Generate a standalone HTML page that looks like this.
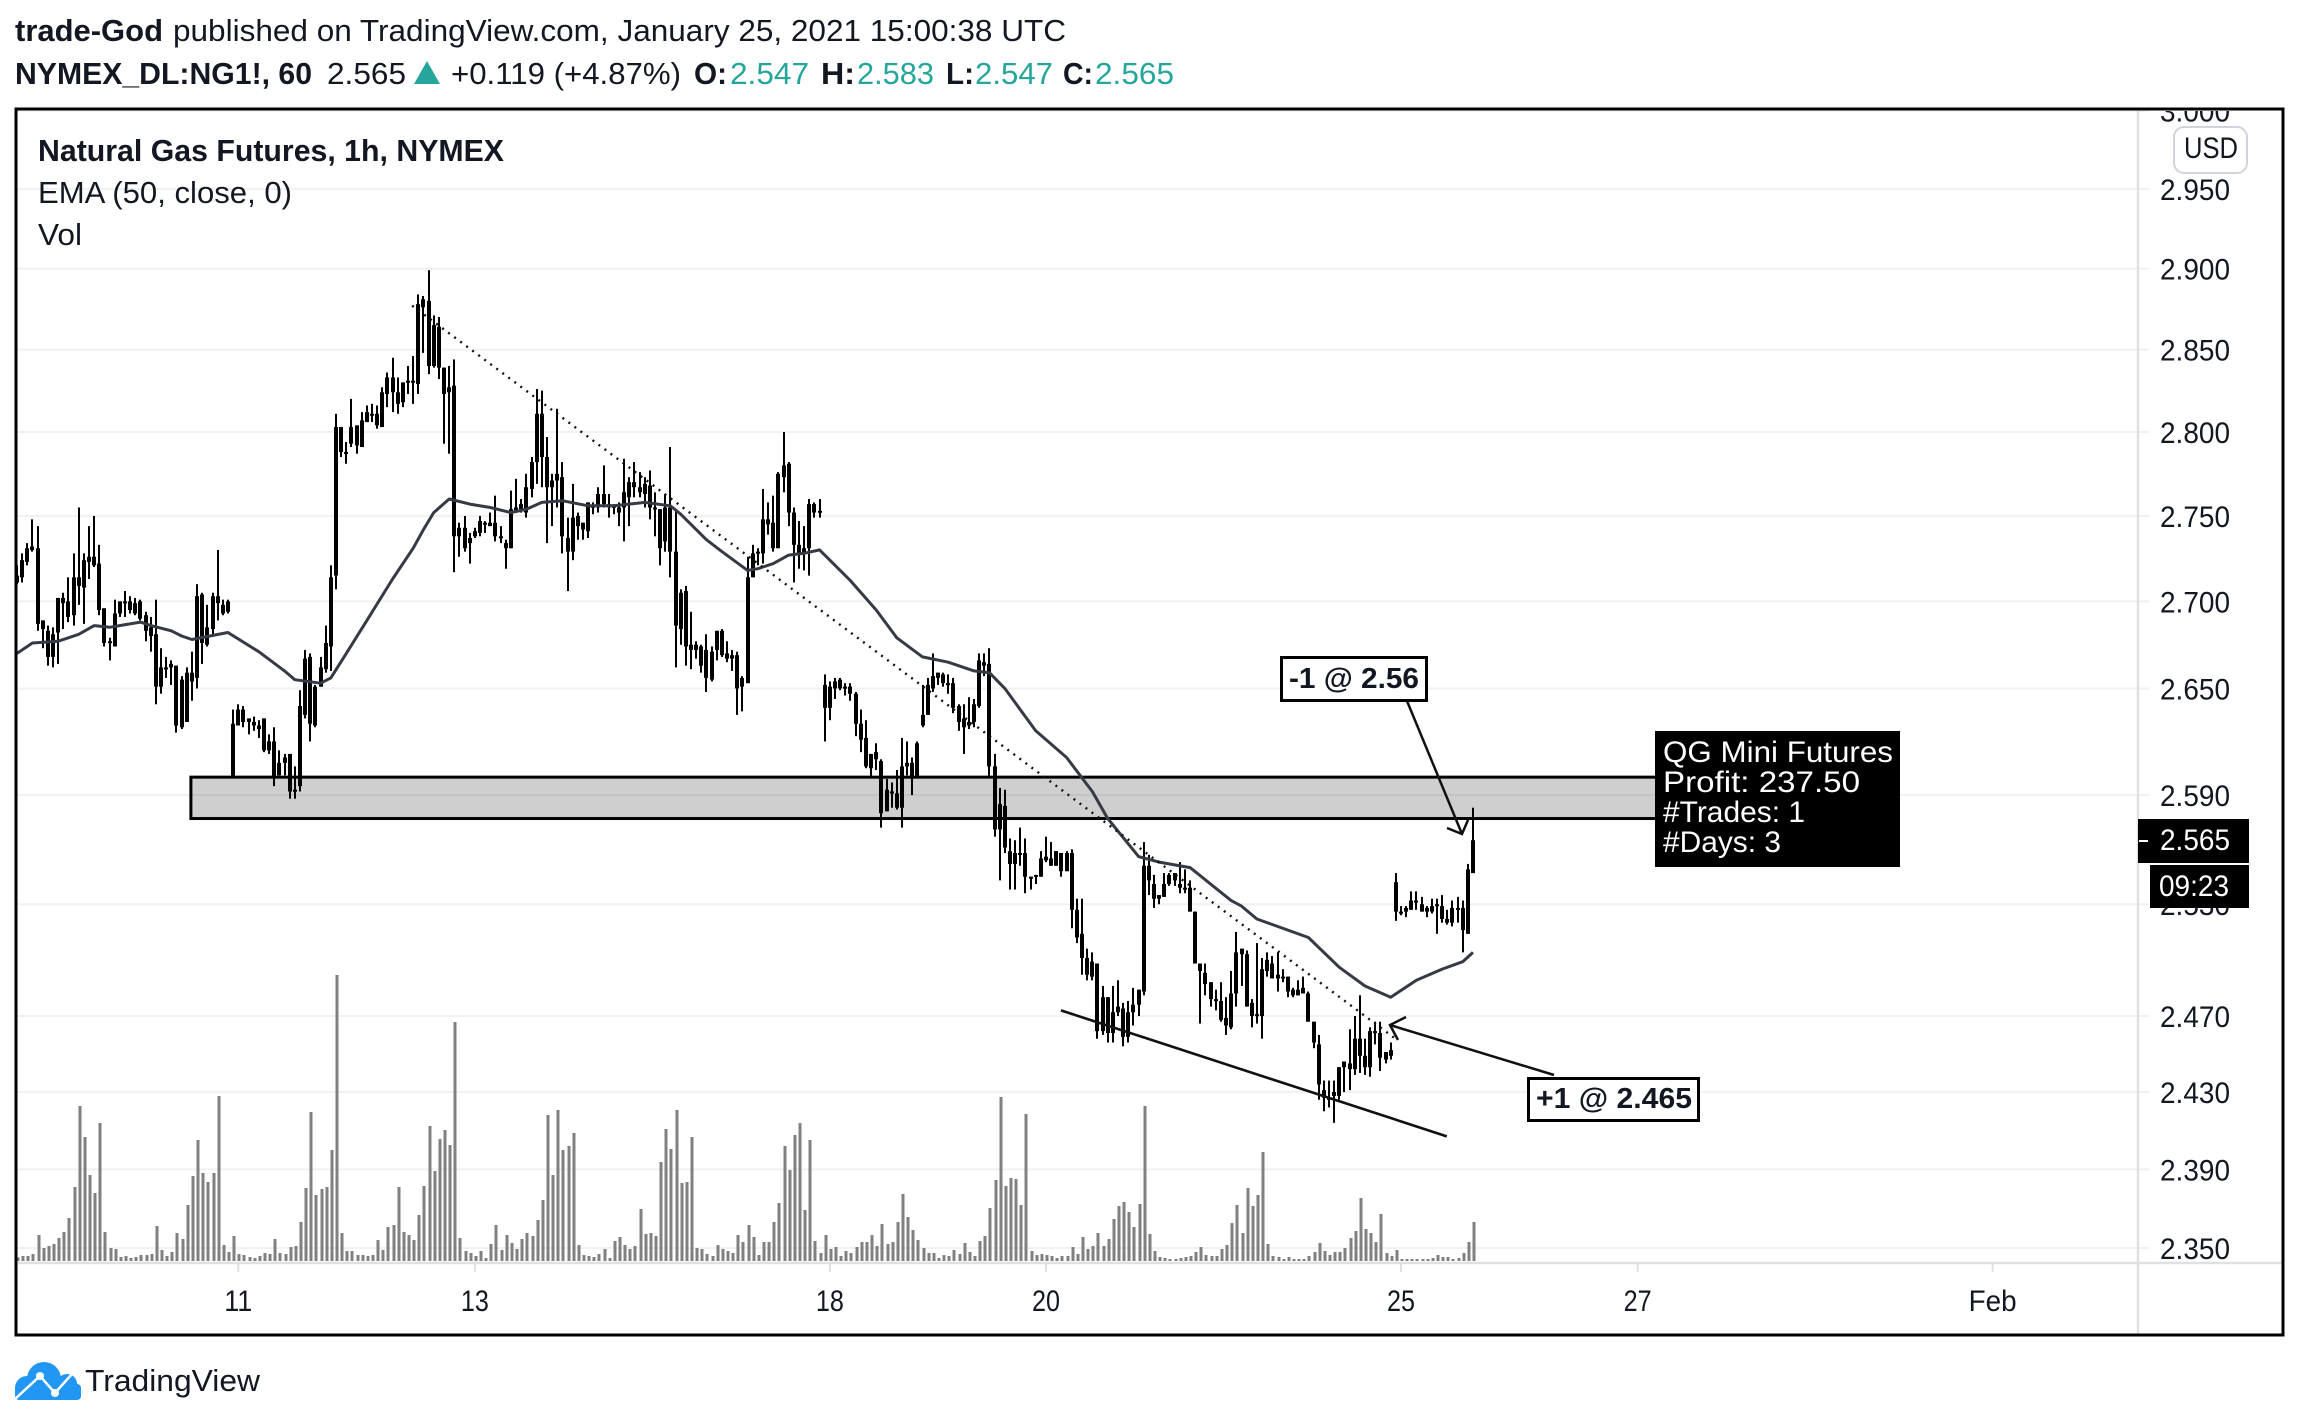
<!DOCTYPE html>
<html lang="en">
<head>
<meta charset="utf-8">
<title>Natural Gas Futures, 1h, NYMEX</title>
<style>
html,body{margin:0;padding:0;background:#fff;width:2299px;height:1426px;overflow:hidden}
svg{display:block}
text{font-family:"Liberation Sans",sans-serif;fill:#131722}
.b{font-weight:bold}
.teal{fill:#26a69a}
.w{fill:#fff}
</style>
</head>
<body>
<svg id="chart" xmlns="http://www.w3.org/2000/svg" width="2299" height="1426" viewBox="0 0 2299 1426">
  <defs>
    <clipPath id="panel-clip"><rect x="17" y="110" width="2121" height="1153"/></clipPath>
    <clipPath id="axis-clip"><rect x="2140" y="111" width="142" height="1222"/></clipPath>
  </defs>
  <rect width="2299" height="1426" fill="#fff"/>

  <g font-size="31">
    <text class="b" x="15" y="41" textLength="148" lengthAdjust="spacingAndGlyphs">trade-God</text>
    <text x="173" y="41" textLength="893" lengthAdjust="spacingAndGlyphs">published on TradingView.com, January 25, 2021 15:00:38 UTC</text>
    <text class="b" x="15" y="84" textLength="297" lengthAdjust="spacingAndGlyphs">NYMEX_DL:NG1!, 60</text>
    <text x="327" y="84" textLength="79" lengthAdjust="spacingAndGlyphs">2.565</text>
    <polygon points="427,61 440,84 414,84" fill="#26a69a"/>
    <text x="451" y="84" textLength="230" lengthAdjust="spacingAndGlyphs">+0.119 (+4.87%)</text>
    <text class="b" x="694" y="84" textLength="33" lengthAdjust="spacingAndGlyphs">O:</text>
    <text class="teal" x="730" y="84" textLength="79" lengthAdjust="spacingAndGlyphs">2.547</text>
    <text class="b" x="821" y="84" textLength="34" lengthAdjust="spacingAndGlyphs">H:</text>
    <text class="teal" x="857" y="84" textLength="77" lengthAdjust="spacingAndGlyphs">2.583</text>
    <text class="b" x="946" y="84" textLength="28" lengthAdjust="spacingAndGlyphs">L:</text>
    <text class="teal" x="975" y="84" textLength="78" lengthAdjust="spacingAndGlyphs">2.547</text>
    <text class="b" x="1063" y="84" textLength="30" lengthAdjust="spacingAndGlyphs">C:</text>
    <text class="teal" x="1095" y="84" textLength="79" lengthAdjust="spacingAndGlyphs">2.565</text>
  </g>

  <g id="grid-layer"></g>
  <g id="zone-layer"></g>
  <g clip-path="url(#panel-clip)">
    <g id="volume-layer"></g>
    <g id="candle-layer"></g>
    <g id="ema-layer"></g>
    <g id="trend-layer"></g>
  </g>

  <g font-size="31">
    <text class="b" x="38" y="161" textLength="466" lengthAdjust="spacingAndGlyphs">Natural Gas Futures, 1h, NYMEX</text>
    <text x="38" y="203" textLength="254" lengthAdjust="spacingAndGlyphs">EMA (50, close, 0)</text>
    <text x="38" y="245" textLength="44" lengthAdjust="spacingAndGlyphs">Vol</text>
  </g>

  <g fill="none" stroke="#111" stroke-width="2.5">
    <line x1="1407" y1="701" x2="1462" y2="834"/>
    <polyline points="1447,828 1462,834 1468,820"/>
    <rect x="1281.5" y="657.5" width="145" height="43" fill="#fff" stroke="#000" stroke-width="3"/>
  </g>
  <text class="b" font-size="29" x="1289" y="688" textLength="130" lengthAdjust="spacingAndGlyphs">-1 @ 2.56</text>

  <g fill="none" stroke="#111" stroke-width="2.5">
    <line x1="1554" y1="1075" x2="1390" y2="1025"/>
    <polyline points="1406,1017 1390,1025 1398,1040"/>
    <rect x="1528.5" y="1078.5" width="170" height="42" fill="#fff" stroke="#000" stroke-width="3"/>
  </g>
  <text class="b" font-size="29" x="1536" y="1108" textLength="156" lengthAdjust="spacingAndGlyphs">+1 @ 2.465</text>

  <g font-size="30">
    <rect x="1655" y="731" width="245" height="136" fill="#000"/>
    <text class="w" x="1663" y="762" textLength="230" lengthAdjust="spacingAndGlyphs">QG Mini Futures</text>
    <text class="w" x="1663" y="792" textLength="197" lengthAdjust="spacingAndGlyphs">Profit: 237.50</text>
    <text class="w" x="1663" y="822" textLength="142" lengthAdjust="spacingAndGlyphs">#Trades: 1</text>
    <text class="w" x="1663" y="852" textLength="118" lengthAdjust="spacingAndGlyphs">#Days: 3</text>
  </g>

  <g id="axis-lines">
    <line x1="2138" y1="109" x2="2138" y2="1335" stroke="#e0e0e0" stroke-width="2.5"/>
    <line x1="17" y1="1263" x2="2283" y2="1263" stroke="#e0e0e0" stroke-width="2.5"/>
  </g>
  <g id="price-axis" clip-path="url(#axis-clip)"></g>
  <g id="time-axis"></g>

  <g>
    <rect x="2174" y="127" width="73" height="46" rx="10" fill="#fff" stroke="#d1d4dc" stroke-width="2"/>
    <text font-size="30" x="2184" y="158" textLength="54" lengthAdjust="spacingAndGlyphs">USD</text>
  </g>

  <g font-size="30">
    <rect x="2138" y="819" width="111" height="44" fill="#000"/>
    <line x1="2139" y1="841" x2="2148" y2="841" stroke="#fff" stroke-width="2"/>
    <text class="w" x="2160" y="850" textLength="70" lengthAdjust="spacingAndGlyphs">2.565</text>
    <rect x="2150" y="865" width="99" height="43" fill="#000"/>
    <text class="w" x="2159" y="896" textLength="70" lengthAdjust="spacingAndGlyphs">09:23</text>
  </g>

  <rect x="16" y="109" width="2267" height="1226" fill="none" stroke="#000" stroke-width="3"/>

  <g>
    <g fill="#2196f3">
      <circle cx="44" cy="1379" r="17"/>
      <circle cx="27" cy="1388" r="12"/>
      <circle cx="67" cy="1384" r="10"/>
      <circle cx="72" cy="1391" r="9"/>
      <rect x="15" y="1384" width="66" height="16" rx="4"/>
    </g>
    <polyline points="15,1399 40,1376 55,1393 72,1374" fill="none" stroke="#fff" stroke-width="2.5"/>
    <circle cx="40" cy="1376" r="4" fill="#fff"/>
    <circle cx="55" cy="1393" r="4" fill="#fff"/>
    <text font-size="31" x="85" y="1391" textLength="175" lengthAdjust="spacingAndGlyphs">TradingView</text>
  </g>
</svg>

<script>
// ---- Chart data ----
const highs = [
2.721,2.728,2.734,2.748,2.744,2.689,2.686,2.685,2.702,2.705,
2.714,2.728,2.755,2.728,2.744,2.750,2.733,2.696,2.679,2.701,
2.700,2.706,2.703,2.702,2.701,2.694,2.691,2.701,2.673,2.668,
2.666,2.663,2.657,2.662,2.671,2.710,2.705,2.698,2.705,2.730,
2.701,2.701,2.638,2.641,2.640,2.633,2.634,2.632,2.633,2.624,
2.628,2.615,2.613,2.613,2.606,2.649,2.672,2.670,2.652,2.668,
2.686,2.721,2.811,2.803,2.794,2.820,2.804,2.812,2.816,2.817,
2.816,2.827,2.836,2.845,2.833,2.830,2.840,2.846,2.884,2.883,
2.899,2.871,2.870,2.839,2.840,2.844,2.746,2.750,2.740,2.743,
2.750,2.747,2.752,2.762,2.744,2.736,2.765,2.772,2.760,2.775,
2.785,2.826,2.825,2.797,2.775,2.814,2.782,2.749,2.769,2.752,
2.746,2.758,2.758,2.767,2.780,2.763,2.757,2.758,2.784,2.773,
2.782,2.776,2.773,2.777,2.764,2.754,2.763,2.791,2.754,2.707,
2.709,2.694,2.677,2.675,2.681,2.674,2.683,2.684,2.677,2.672,
2.671,2.657,2.726,2.733,2.731,2.766,2.758,2.762,2.776,2.800,
2.782,2.755,2.747,2.744,2.760,2.758,2.760,2.658,2.654,2.656,
2.656,2.653,2.653,2.648,2.638,2.632,2.613,2.619,2.610,2.599,
2.597,2.604,2.622,2.620,2.611,2.620,2.652,2.656,2.670,2.659,
2.659,2.658,2.656,2.641,2.641,2.645,2.644,2.670,2.670,2.673,
2.613,2.594,2.593,2.566,2.565,2.572,2.566,2.545,2.546,2.559,
2.567,2.564,2.559,2.558,2.559,2.560,2.533,2.533,2.506,2.504,
2.498,2.486,2.480,2.486,2.489,2.477,2.478,2.485,2.484,2.564,
2.557,2.546,2.535,2.547,2.547,2.547,2.553,2.549,2.543,2.526,
2.498,2.498,2.488,2.484,2.488,2.480,2.494,2.515,2.506,2.505,
2.479,2.509,2.501,2.504,2.502,2.504,2.495,2.491,2.485,2.489,
2.491,2.483,2.467,2.460,2.436,2.436,2.436,2.443,2.446,2.463,
2.470,2.481,2.458,2.464,2.467,2.467,2.451,2.456,2.547,2.529,
2.529,2.537,2.537,2.534,2.529,2.533,2.533,2.535,2.527,2.532,
2.534,2.532,2.552,2.583];

const bodyHighs = [
2.715,2.724,2.731,2.732,2.731,2.689,2.683,2.681,2.702,2.702,
2.700,2.714,2.714,2.724,2.726,2.726,2.722,2.696,2.677,2.693,
2.700,2.700,2.700,2.699,2.700,2.692,2.685,2.681,2.662,2.662,
2.664,2.663,2.655,2.659,2.659,2.703,2.704,2.685,2.703,2.703,
2.698,2.700,2.630,2.638,2.638,2.633,2.631,2.629,2.633,2.620,
2.620,2.608,2.611,2.613,2.593,2.640,2.667,2.668,2.651,2.662,
2.676,2.714,2.803,2.803,2.788,2.803,2.804,2.807,2.812,2.811,
2.811,2.824,2.833,2.833,2.824,2.830,2.831,2.831,2.878,2.881,
2.880,2.865,2.864,2.839,2.827,2.828,2.743,2.743,2.737,2.741,
2.747,2.746,2.746,2.746,2.738,2.734,2.754,2.755,2.757,2.767,
2.782,2.811,2.811,2.785,2.771,2.775,2.773,2.737,2.749,2.750,
2.746,2.758,2.756,2.763,2.763,2.757,2.756,2.755,2.764,2.770,
2.770,2.767,2.769,2.768,2.755,2.754,2.755,2.755,2.729,2.705,
2.706,2.675,2.675,2.674,2.672,2.671,2.683,2.683,2.670,2.669,
2.669,2.656,2.714,2.728,2.729,2.748,2.748,2.746,2.775,2.780,
2.781,2.752,2.733,2.731,2.757,2.757,2.753,2.652,2.651,2.654,
2.655,2.651,2.651,2.647,2.630,2.622,2.613,2.614,2.609,2.593,
2.592,2.591,2.606,2.608,2.608,2.619,2.635,2.652,2.657,2.659,
2.658,2.653,2.653,2.640,2.633,2.631,2.641,2.666,2.665,2.664,
2.606,2.585,2.584,2.559,2.558,2.558,2.558,2.545,2.546,2.555,
2.556,2.555,2.559,2.558,2.558,2.558,2.527,2.514,2.501,2.499,
2.498,2.480,2.480,2.472,2.475,2.474,2.472,2.476,2.484,2.551,
2.551,2.541,2.535,2.541,2.546,2.547,2.541,2.539,2.539,2.526,
2.498,2.493,2.488,2.479,2.478,2.469,2.482,2.504,2.506,2.503,
2.477,2.471,2.495,2.500,2.498,2.492,2.491,2.491,2.484,2.484,
2.485,2.482,2.467,2.455,2.431,2.427,2.430,2.443,2.446,2.445,
2.458,2.458,2.449,2.462,2.462,2.461,2.451,2.452,2.542,2.526,
2.528,2.532,2.532,2.530,2.528,2.529,2.530,2.529,2.522,2.528,
2.528,2.528,2.549,2.565];

const bodyLows = [
2.711,2.714,2.723,2.730,2.687,2.684,2.668,2.668,2.682,2.699,
2.691,2.692,2.709,2.708,2.723,2.721,2.695,2.676,2.676,2.674,
2.693,2.699,2.695,2.693,2.690,2.683,2.680,2.651,2.651,2.661,
2.662,2.629,2.628,2.631,2.654,2.656,2.676,2.675,2.684,2.699,
2.693,2.694,2.600,2.629,2.631,2.631,2.629,2.627,2.615,2.615,
2.600,2.601,2.608,2.592,2.592,2.595,2.635,2.630,2.629,2.651,
2.661,2.674,2.715,2.788,2.788,2.793,2.792,2.791,2.806,2.810,
2.804,2.803,2.823,2.824,2.817,2.818,2.830,2.830,2.829,2.876,
2.840,2.840,2.839,2.823,2.824,2.738,2.738,2.731,2.734,2.738,
2.740,2.746,2.744,2.738,2.737,2.731,2.731,2.752,2.754,2.752,
2.766,2.782,2.785,2.767,2.767,2.771,2.738,2.729,2.729,2.744,
2.742,2.741,2.755,2.755,2.757,2.755,2.755,2.752,2.755,2.761,
2.767,2.764,2.763,2.755,2.754,2.731,2.735,2.729,2.686,2.684,
2.674,2.672,2.672,2.663,2.656,2.655,2.672,2.669,2.667,2.667,
2.650,2.651,2.653,2.714,2.728,2.728,2.745,2.731,2.731,2.773,
2.752,2.733,2.728,2.728,2.731,2.752,2.752,2.639,2.639,2.650,
2.650,2.650,2.647,2.630,2.621,2.606,2.605,2.610,2.580,2.581,
2.591,2.583,2.583,2.606,2.600,2.600,2.629,2.635,2.650,2.656,
2.653,2.652,2.639,2.631,2.628,2.629,2.631,2.640,2.663,2.606,
2.571,2.571,2.561,2.552,2.552,2.558,2.545,2.544,2.545,2.545,
2.554,2.551,2.551,2.548,2.548,2.527,2.512,2.501,2.492,2.491,
2.462,2.462,2.461,2.461,2.472,2.459,2.459,2.472,2.476,2.483,
2.543,2.533,2.533,2.534,2.541,2.543,2.539,2.539,2.526,2.498,
2.494,2.487,2.479,2.478,2.468,2.465,2.464,2.482,2.503,2.475,
2.470,2.470,2.470,2.494,2.490,2.490,2.490,2.483,2.481,2.481,
2.482,2.467,2.456,2.434,2.427,2.427,2.428,2.428,2.443,2.442,
2.442,2.449,2.443,2.443,2.461,2.448,2.447,2.449,2.526,2.526,
2.526,2.527,2.532,2.526,2.526,2.526,2.529,2.522,2.520,2.520,
2.528,2.516,2.514,2.547];

const lows = [
2.710,2.711,2.721,2.729,2.683,2.673,2.663,2.662,2.664,2.684,
2.688,2.686,2.698,2.687,2.713,2.720,2.692,2.674,2.666,2.674,
2.691,2.691,2.693,2.692,2.689,2.677,2.671,2.641,2.647,2.656,
2.652,2.625,2.627,2.631,2.643,2.650,2.664,2.674,2.680,2.689,
2.692,2.693,2.600,2.629,2.628,2.624,2.626,2.622,2.614,2.613,
2.595,2.601,2.601,2.588,2.588,2.592,2.633,2.620,2.628,2.651,
2.659,2.660,2.707,2.785,2.781,2.791,2.787,2.791,2.806,2.806,
2.802,2.803,2.815,2.812,2.811,2.815,2.823,2.817,2.823,2.848,
2.835,2.839,2.832,2.793,2.787,2.717,2.726,2.729,2.722,2.737,
2.738,2.740,2.744,2.735,2.734,2.719,2.731,2.752,2.752,2.749,
2.761,2.769,2.767,2.734,2.744,2.755,2.728,2.706,2.724,2.736,
2.736,2.737,2.751,2.752,2.755,2.749,2.751,2.744,2.735,2.744,
2.761,2.761,2.755,2.748,2.738,2.721,2.729,2.714,2.662,2.675,
2.663,2.661,2.667,2.659,2.648,2.654,2.666,2.668,2.665,2.660,
2.635,2.637,2.653,2.714,2.721,2.722,2.739,2.729,2.731,2.764,
2.744,2.711,2.719,2.718,2.715,2.749,2.749,2.620,2.632,2.644,
2.649,2.646,2.643,2.623,2.614,2.605,2.600,2.604,2.572,2.581,
2.583,2.582,2.572,2.601,2.590,2.600,2.628,2.635,2.648,2.652,
2.651,2.647,2.636,2.626,2.613,2.627,2.628,2.639,2.657,2.600,
2.567,2.543,2.558,2.538,2.538,2.551,2.536,2.538,2.541,2.545,
2.553,2.551,2.551,2.545,2.548,2.517,2.509,2.492,2.489,2.489,
2.458,2.460,2.456,2.456,2.470,2.454,2.456,2.465,2.470,2.481,
2.535,2.528,2.530,2.534,2.540,2.540,2.536,2.536,2.526,2.498,
2.466,2.481,2.475,2.473,2.467,2.460,2.463,2.475,2.486,2.475,
2.464,2.466,2.458,2.491,2.490,2.483,2.488,2.480,2.480,2.481,
2.482,2.467,2.453,2.426,2.420,2.422,2.414,2.426,2.430,2.431,
2.439,2.440,2.439,2.438,2.455,2.441,2.445,2.447,2.521,2.524,
2.523,2.527,2.527,2.526,2.523,2.525,2.514,2.520,2.519,2.518,
2.520,2.504,2.514,2.547];

const volumes = [
11,15,15,21,78,39,45,51,69,87,
129,222,465,372,258,204,414,87,39,36,
12,15,9,12,18,18,21,105,33,15,
27,84,66,168,255,363,264,237,264,495,
48,27,75,21,18,12,9,15,24,21,
66,24,21,42,45,117,219,447,198,216,
222,333,858,84,30,30,18,18,15,18,
63,33,102,108,222,87,78,63,138,225,
405,270,366,393,348,717,69,30,24,15,
30,9,51,108,33,78,54,36,66,84,
75,123,183,438,258,453,333,345,384,48,
18,15,12,21,36,9,60,72,48,36,
45,156,81,84,75,297,396,336,453,234,
237,372,39,36,21,15,48,36,30,24,
78,57,108,72,18,57,57,117,174,345,
273,378,414,153,363,60,24,78,36,42,
15,30,24,42,57,57,78,45,111,51,
57,117,201,132,93,63,39,24,24,9,
18,15,33,21,54,27,15,60,75,159,
243,492,225,249,246,168,441,30,18,21,
18,15,9,15,15,42,21,72,36,45,
84,45,66,126,165,177,147,102,171,465,
81,30,12,9,6,6,9,12,15,27,
42,18,15,15,36,48,114,168,84,219,
165,198,327,51,15,12,6,12,6,6,
6,15,27,54,30,18,27,27,39,69,
90,189,96,84,57,141,24,15,33,6,
6,6,6,6,6,9,18,12,12,6,
9,24,57,117];

// EMA (50, close, 0) at these bars
const emaBars = [0,3,8,10,12,15,18,24,26,30,32,34,41,47,52,54,59,61,64,68,73,77,79,81,84,88,92,96,99,102,106,111,116,122,127,129,134,137,142,144,147,150,153,156,158,162,167,171,176,181,186,189,192,198,204,209,212,218,222,228,236,238,241,251,257,262,267,272,277,281,283];
const emaValues = [2.670,2.676,2.677,2.679,2.681,2.686,2.685,2.688,2.686,2.683,2.680,2.678,2.682,2.671,2.660,2.655,2.653,2.656,2.670,2.689,2.713,2.731,2.742,2.752,2.760,2.757,2.755,2.752,2.754,2.758,2.759,2.756,2.756,2.758,2.756,2.751,2.736,2.729,2.718,2.719,2.722,2.727,2.728,2.730,2.724,2.712,2.695,2.679,2.668,2.665,2.660,2.659,2.650,2.626,2.611,2.592,2.577,2.556,2.553,2.550,2.532,2.529,2.522,2.512,2.496,2.486,2.480,2.489,2.495,2.499,2.504];

const priceTicks = ["3.000","2.950","2.900","2.850","2.800","2.750","2.700","2.650","2.590","2.530","2.470","2.430","2.390","2.350"];
const timeLabels = ["11","13","18","20","25","27","Feb"];
const timeBars = [43,89,158,200,269,315,384];

// Drawings anchored to bar / price
const zoneBars = [33.8,319.4];
const zonePrices = [2.600,2.577];
const dottedBars = [76.8,268.4];
const dottedPrices = [2.877,2.457];
const channelBars = [202.9,277.9];
const channelPrices = [2.473,2.407];

// ---- Axis functions ----
const NS = "http://www.w3.org/2000/svg";
function barX(i){ return 17 + 5.145 * i; }
function priceY(p){ return 189 + 4657 * Math.log(2.95 / p); }
function volH(v){ return v / 3; }
const VOL_BASE = 1261;

function mk(tag, attrs, parent){
  const el = document.createElementNS(NS, tag);
  for (const k in attrs) el.setAttribute(k, attrs[k]);
  parent.appendChild(el);
  return el;
}

// Gridlines and price labels
const gridLayer = document.getElementById('grid-layer');
const priceAxis = document.getElementById('price-axis');
priceTicks.forEach(function(t){
  const y = priceY(parseFloat(t));
  const gl = mk('line', {x1:17, x2:2149, y1:y, y2:y, stroke:'#f1f1f1', 'stroke-width':2}, gridLayer);
  
  
  const tx = mk('text', {x:2160, y:y+11, 'font-size':30, textLength:70, lengthAdjust:'spacingAndGlyphs'}, priceAxis);
  tx.textContent = t;
  
  
});

// Time axis ticks and labels
const timeAxis = document.getElementById('time-axis');
timeLabels.forEach(function(lab, k){
  const x = barX(timeBars[k]);
  const tick = mk('line', {x1:x, x2:x, y1:1263, y2:1272, stroke:'#e0e0e0', 'stroke-width':2}, timeAxis);
  
  
  const tx = mk('text', {x:x, y:1311, 'font-size':30, 'text-anchor':'middle'}, timeAxis);
  tx.setAttribute('textLength', lab.length > 2 ? 48 : 28);
  tx.setAttribute('lengthAdjust', 'spacingAndGlyphs');
  tx.textContent = lab;
  
  
});

// Support zone
const zoneTop = priceY(zonePrices[0]);
const zoneBottom = priceY(zonePrices[1]);
const zone = mk('rect', {x:barX(zoneBars[0]), y:zoneTop, width:barX(zoneBars[1])-barX(zoneBars[0]), height:zoneBottom-zoneTop, fill:'rgba(0,0,0,0.19)', stroke:'#000', 'stroke-width':3}, document.getElementById('zone-layer'));



// Volume bars
const volumeLayer = document.getElementById('volume-layer');
volumes.forEach(function(v, i){
  const h = volH(v);
  const bar = mk('rect', {x:Math.round(barX(i)+1)-1.5, y:VOL_BASE-h, width:3, height:h, fill:'#808080'}, volumeLayer);
  
  
});

// Candles
const candleLayer = document.getElementById('candle-layer');
highs.forEach(function(h, i){
  const x = Math.round(barX(i));
  const wick = mk('rect', {x:x-1, y:priceY(h), width:2, height:Math.max(1, priceY(lows[i])-priceY(h)), fill:'#000'}, candleLayer);
  
  
  const top = priceY(bodyHighs[i]);
  const body = mk('rect', {x:x-2, y:top, width:4, height:Math.max(2, priceY(bodyLows[i])-top), fill:'#000'}, candleLayer);
  
  
});

// EMA line
const emaPts = emaBars.map(function(b, k){ return barX(b).toFixed(1) + ',' + priceY(emaValues[k]).toFixed(1); }).join(' ');
const emaLine = mk('polyline', {points:emaPts, fill:'none', stroke:'#363a45', 'stroke-width':3, 'stroke-linejoin':'round'}, document.getElementById('ema-layer'));



// Trendlines
const trendLayer = document.getElementById('trend-layer');
const dotted = mk('line', {x1:barX(dottedBars[0]), y1:priceY(dottedPrices[0]), x2:barX(dottedBars[1]), y2:priceY(dottedPrices[1]), stroke:'#111', 'stroke-width':2.4, 'stroke-dasharray':'2 5.5'}, trendLayer);


const channel = mk('line', {x1:barX(channelBars[0]), y1:priceY(channelPrices[0]), x2:barX(channelBars[1]), y2:priceY(channelPrices[1]), stroke:'#111', 'stroke-width':2.6}, trendLayer);


</script>
</body>
</html>
